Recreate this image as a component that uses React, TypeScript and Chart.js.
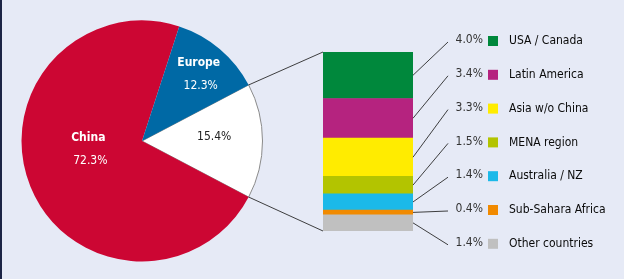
import React, { useEffect, useRef } from "react";
import { Chart, registerables } from "chart.js";

Chart.register(...registerables);

// ---- data ----
const pieLabels = ["Other regions", "China", "Europe"];
const pieValues = [15.4, 72.3, 12.3];
const pieColors = ["#ffffff", "#cc0633", "#0069a5"];

const categories = [
  "USA / Canada",
  "Latin America",
  "Asia w/o China",
  "MENA region",
  "Australia / NZ",
  "Sub-Sahara Africa",
  "Other countries",
];
const regionValues = [4.0, 3.4, 3.3, 1.5, 1.4, 0.4, 1.4];
const regionColors = ["#00883c", "#b5237f", "#ffec00", "#b3c400", "#1bb9e9", "#f18a00", "#c0c0c0"];

const FONT = "'DejaVu Sans Condensed', 'DejaVu Sans', sans-serif";
const BG = "#e6eaf6";

export default function App() {
  const pieRef = useRef<HTMLCanvasElement | null>(null);
  const barRef = useRef<HTMLCanvasElement | null>(null);

  useEffect(() => {
    const restShare = pieValues[0];
    const startDeg = -(restShare / 100) * 360 / 2;

    const pieLabelPlugin = {
      id: "pieLabels",
      afterDatasetsDraw(chart: any) {
        const ctx = chart.ctx;
        const meta = chart.getDatasetMeta(0);
        const cfg = [
          { frac: 0.6, dAng: -3, color: "#222", title: "" },
          { frac: 0.45, dAng: 14, color: "#ffffff", title: pieLabels[1] },
          { frac: 0.73, dAng: 0, color: "#ffffff", title: pieLabels[2] },
        ];
        meta.data.forEach((arc: any, i: number) => {
          const p = arc.getProps(["x", "y", "startAngle", "endAngle", "outerRadius"], true);
          const mid = (p.startAngle + p.endAngle) / 2 + (cfg[i].dAng * Math.PI) / 180;
          const r = p.outerRadius * cfg[i].frac;
          const cx = p.x + r * Math.cos(mid);
          const cy = p.y + r * Math.sin(mid);
          ctx.save();
          ctx.fillStyle = cfg[i].color;
          ctx.textAlign = "center";
          ctx.textBaseline = "middle";
          const val = pieValues[i].toFixed(1) + "%";
          if (cfg[i].title) {
            ctx.font = `bold 12px ${FONT}`;
            ctx.fillText(cfg[i].title, cx, cy - 11);
            ctx.font = `12px ${FONT}`;
            ctx.fillText(val, cx + 2, cy + 12);
          } else {
            ctx.font = `12px ${FONT}`;
            ctx.fillText(val, cx, cy);
          }
          ctx.restore();
        });
      },
    };

    const pie = new Chart(pieRef.current!, {
      type: "pie",
      data: {
        labels: pieLabels,
        datasets: [
          {
            data: pieValues,
            backgroundColor: pieColors,
            borderWidth: [1, 0, 0],
            borderColor: ["#8a8a8a", "#cc0633", "#0069a5"],
          },
        ],
      },
      options: {
        animation: false,
        responsive: false,
        rotation: 90 + startDeg,
        layout: { padding: { left: 21, right: 361, top: 20, bottom: 17 } },
        plugins: { legend: { display: false }, tooltip: { enabled: false } },
      },
      plugins: [pieLabelPlugin],
    });

    const stackOrder = categories.map((_, i) => i).reverse();

    const legendPlugin = {
      id: "barLegend",
      afterDatasetsDraw(chart: any) {
        const ctx = chart.ctx;
        // connector lines from pie to bar
        const arc: any = pie.getDatasetMeta(0).data[0];
        const ap = arc.getProps(["x", "y", "startAngle", "endAngle", "outerRadius"], true);
        const topEl: any = chart.getDatasetMeta(stackOrder.length - 1).data[0];
        const botEl: any = chart.getDatasetMeta(0).data[0];
        const left = topEl.x - topEl.width / 2;
        ctx.save();
        ctx.strokeStyle = "#2a2a2a";
        ctx.lineWidth = 0.9;
        ctx.beginPath();
        ctx.moveTo(ap.x + ap.outerRadius * Math.cos(ap.startAngle), ap.y + ap.outerRadius * Math.sin(ap.startAngle));
        ctx.lineTo(left, topEl.y);
        ctx.moveTo(ap.x + ap.outerRadius * Math.cos(ap.endAngle), ap.y + ap.outerRadius * Math.sin(ap.endAngle));
        ctx.lineTo(left, botEl.base);
        ctx.stroke();

        // legend rows
        const rowTop = 40;
        const rowStep = 33.8;
        const lineEndX = 448;
        const pctRight = 483;
        const boxX = 488;
        const labelX = 509;
        categories.forEach((name, i) => {
          const dsIndex = stackOrder.indexOf(i);
          const el: any = chart.getDatasetMeta(dsIndex).data[0];
          const right = el.x + el.width / 2;
          const midY = (el.y + el.base) / 2;
          const rowY = rowTop + i * rowStep;
          ctx.strokeStyle = "#2a2a2a";
          ctx.lineWidth = 0.9;
          ctx.beginPath();
          ctx.moveTo(right, midY);
          ctx.lineTo(lineEndX, rowY + 2);
          ctx.stroke();

          ctx.textBaseline = "middle";
          ctx.font = `12px ${FONT}`;
          ctx.fillStyle = "#333333";
          ctx.textAlign = "right";
          ctx.fillText(regionValues[i].toFixed(1) + "%", pctRight, rowY);

          ctx.fillStyle = regionColors[i];
          ctx.fillRect(boxX, rowY - 4, 10, 10);

          ctx.fillStyle = "#0a0a0a";
          ctx.textAlign = "left";
          ctx.font = `12px ${FONT}`;
          ctx.fillText(name, labelX, rowY + 1);
        });
        ctx.restore();
      },
    };

    const total = regionValues.reduce((a, b) => a + b, 0);

    const bar = new Chart(barRef.current!, {
      type: "bar",
      data: {
        labels: ["Other regions"],
        datasets: stackOrder.map((i) => ({
          label: categories[i],
          data: [regionValues[i]],
          backgroundColor: regionColors[i],
          borderWidth: 0,
          barPercentage: 1,
          categoryPercentage: 1,
        })),
      },
      options: {
        animation: false,
        responsive: false,
        layout: { padding: { left: 323, right: 211, top: 52, bottom: 48 } },
        scales: {
          x: { display: false, stacked: true },
          y: { display: false, stacked: true, min: 0, max: total },
        },
        plugins: { legend: { display: false }, tooltip: { enabled: false } },
      },
      plugins: [legendPlugin],
    });

    return () => {
      bar.destroy();
      pie.destroy();
    };
  }, []);

  return (
    <div
      style={{
        position: "fixed",
        left: 0,
        top: 0,
        width: 624,
        height: 279,
        background: BG,
        overflow: "hidden",
      }}
    >
      <div style={{ position: "absolute", left: 0, top: 0, width: 2, height: 279, background: "#1c2445" }} />
      <canvas ref={pieRef} width={624} height={279} style={{ position: "absolute", left: 0, top: 0 }} />
      <canvas ref={barRef} width={624} height={279} style={{ position: "absolute", left: 0, top: 0 }} />
    </div>
  );
}
